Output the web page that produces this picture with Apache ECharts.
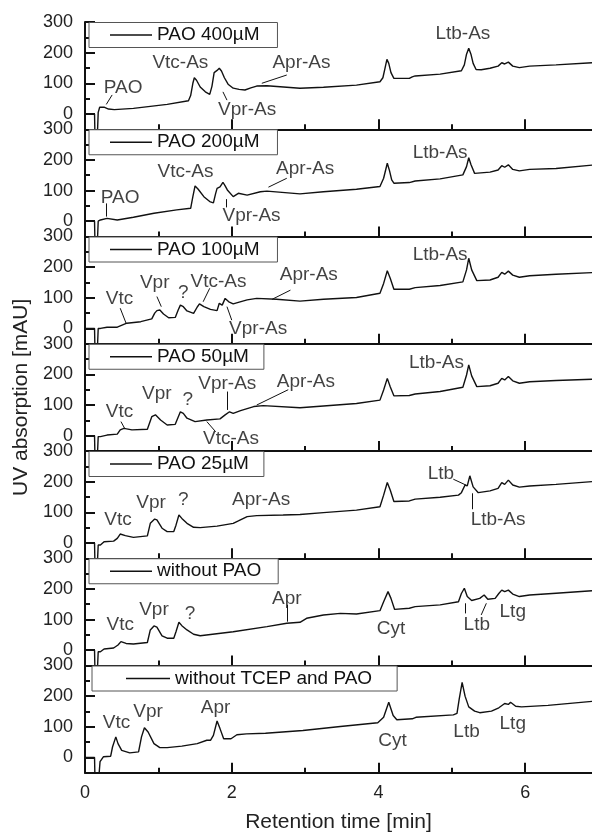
<!DOCTYPE html>
<html>
<head>
<meta charset="utf-8">
<script src="https://cdn.jsdelivr.net/npm/echarts@6/dist/echarts.min.js"></script>
<style>
html,body{margin:0;padding:0;background:#fff;}
#chart{width:592px;height:834px;}
</style>
</head>
<body>
<div id="chart"></div>
<script>
// ---- tick values ----
const xMajor = [0, 2, 4, 6];
const xMinor = [1, 3, 5];
const yMajor = [0, 100, 200, 300];
const yMinor = [50, 150, 250];

// ---- panel names ----
const panelNames = ['PAO 400µM', 'PAO 200µM', 'PAO 100µM', 'PAO 50µM', 'PAO 25µM', 'without PAO', 'without TCEP and PAO'];

// ---- traces [time, mAU] ----
const p400 = [[0,0],[0.13,0],[0.135,-60],[0.17,-60],[0.18,5],[0.2,22],[0.22,26],[0.26,22],[0.32,16],[0.4,14],[0.66,18],[1.12,31],[1.41,43],[1.44,60],[1.47,100],[1.49,118],[1.52,110],[1.57,88],[1.64,72],[1.70,64],[1.73,90],[1.76,135],[1.78,141],[1.80,142],[1.83,149],[1.86,140],[1.90,118],[1.95,97],[2.02,84],[2.10,80],[2.18,78],[2.26,85],[2.34,91],[2.48,92],[2.93,84],[3.25,87],[3.70,94],[4.02,105],[4.06,118],[4.09,150],[4.115,178],[4.14,165],[4.17,135],[4.21,116],[4.42,116],[4.46,121],[4.50,124],[4.84,130],[5.13,141],[5.17,160],[5.20,195],[5.23,214],[5.26,195],[5.29,165],[5.33,145],[5.40,144],[5.52,149],[5.63,156],[5.68,167],[5.72,163],[5.77,169],[5.83,156],[5.92,151],[6.06,156],[6.42,160],[6.91,167]];
const p200 = [[0,0],[0.13,0],[0.135,-60],[0.17,-60],[0.18,0],[0.21,4],[0.30,9],[0.44,4],[0.66,13],[0.94,26],[1.25,37],[1.44,42],[1.47,80],[1.50,115],[1.54,105],[1.62,80],[1.70,64],[1.75,60],[1.78,90],[1.80,107],[1.84,112],[1.88,127],[1.91,115],[1.94,102],[2.02,80],[2.09,91],[2.21,85],[2.39,96],[2.48,98],[2.93,89],[3.25,96],[3.70,104],[4.02,113],[4.07,140],[4.12,189],[4.15,165],[4.18,135],[4.21,124],[4.42,126],[4.50,131],[4.84,138],[5.15,151],[5.20,178],[5.23,207],[5.26,185],[5.31,156],[5.52,160],[5.63,167],[5.68,181],[5.72,176],[5.77,184],[5.83,169],[5.92,164],[6.06,169],[6.42,172],[6.91,183]];
const p100 = [[0,0],[0.13,0],[0.135,-60],[0.17,-60],[0.18,0],[0.21,0],[0.30,4],[0.44,4],[0.57,17],[0.76,22],[0.91,31],[0.95,50],[0.98,58],[1.02,60],[1.07,47],[1.14,35],[1.23,36],[1.27,60],[1.30,76],[1.34,71],[1.39,57],[1.48,49],[1.53,70],[1.56,80],[1.62,71],[1.71,62],[1.80,58],[1.83,82],[1.87,76],[1.91,98],[1.96,87],[2.02,80],[2.09,85],[2.21,93],[2.34,98],[2.61,95],[2.93,89],[3.25,95],[3.70,101],[4.02,115],[4.07,147],[4.12,188],[4.16,164],[4.21,128],[4.42,128],[4.50,133],[4.84,140],[5.15,152],[5.20,191],[5.23,229],[5.27,191],[5.34,156],[5.52,158],[5.63,167],[5.68,183],[5.72,177],[5.77,187],[5.83,174],[5.92,167],[6.06,172],[6.42,177],[6.91,182]];
const p50 = [[0,0],[0.13,0],[0.135,-60],[0.17,-60],[0.18,-3],[0.21,-3],[0.30,2],[0.44,5],[0.48,19],[0.53,24],[0.64,19],[0.85,21],[0.91,62],[0.96,68],[1.03,51],[1.12,35],[1.23,37],[1.30,78],[1.34,73],[1.39,57],[1.50,46],[1.66,51],[1.84,55],[1.91,68],[1.93,73],[1.97,78],[2.02,73],[2.12,82],[2.30,95],[2.43,98],[2.93,91],[3.25,97],[3.70,105],[4.02,116],[4.07,149],[4.12,187],[4.16,160],[4.21,130],[4.42,131],[4.50,136],[4.84,144],[5.15,158],[5.20,198],[5.23,231],[5.27,195],[5.34,160],[5.52,163],[5.63,171],[5.68,187],[5.72,182],[5.77,193],[5.83,179],[5.92,171],[6.06,176],[6.42,180],[6.91,184]];
const p25 = [[0,0],[0.13,0],[0.135,-60],[0.17,-60],[0.18,-7],[0.21,-7],[0.26,4],[0.39,6],[0.44,15],[0.48,29],[0.55,24],[0.66,18],[0.85,23],[0.89,64],[0.95,78],[0.98,75],[1.05,48],[1.12,37],[1.21,37],[1.24,58],[1.28,91],[1.32,80],[1.39,64],[1.48,51],[1.57,50],[1.80,55],[2.02,64],[2.09,72],[2.21,86],[2.34,89],[2.70,91],[2.93,93],[3.25,99],[3.70,107],[4.02,118],[4.07,156],[4.12,197],[4.16,173],[4.21,135],[4.42,137],[4.50,143],[4.84,149],[5.09,156],[5.13,164],[5.18,189],[5.21,186],[5.245,219],[5.29,183],[5.36,164],[5.52,170],[5.63,178],[5.68,197],[5.72,191],[5.77,205],[5.83,189],[5.92,182],[6.06,186],[6.42,191],[6.91,200]];
const pNoPAO = [[0,0],[0.13,0],[0.135,-60],[0.17,-60],[0.18,-5],[0.21,-5],[0.26,4],[0.39,7],[0.45,17],[0.49,28],[0.56,22],[0.66,20],[0.85,25],[0.89,66],[0.94,79],[0.98,75],[1.05,47],[1.12,39],[1.21,39],[1.24,60],[1.28,91],[1.32,80],[1.39,66],[1.48,52],[1.57,47],[2.02,60],[2.48,77],[2.75,88],[2.93,91],[3.02,104],[3.25,115],[3.48,120],[3.70,118],[4.02,129],[4.07,158],[4.13,191],[4.17,169],[4.22,133],[4.42,137],[4.50,142],[4.84,148],[5.09,158],[5.13,185],[5.17,202],[5.21,175],[5.27,162],[5.38,169],[5.44,180],[5.49,166],[5.59,169],[5.64,185],[5.68,196],[5.72,191],[5.77,196],[5.83,183],[5.92,175],[6.06,180],[6.42,186],[6.91,194]];
const pNoTCEP = [[0,0],[0.13,0],[0.135,-60],[0.19,-60],[0.205,-14],[0.25,2],[0.35,4],[0.375,34],[0.42,67],[0.45,45],[0.50,23],[0.61,15],[0.73,18],[0.77,67],[0.81,97],[0.86,83],[0.94,45],[1.02,32],[1.12,32],[1.32,37],[1.53,45],[1.66,56],[1.71,56],[1.75,72],[1.80,119],[1.84,94],[1.89,61],[1.99,61],[2.07,74],[2.20,77],[2.46,79],[2.97,88],[3.48,101],[3.99,113],[4.07,131],[4.14,180],[4.20,137],[4.25,123],[4.46,126],[4.51,131],[5.02,139],[5.07,144],[5.10,190],[5.14,245],[5.18,200],[5.23,165],[5.31,151],[5.38,146],[5.54,151],[5.64,162],[5.72,176],[5.77,173],[5.80,180],[5.87,167],[5.95,165],[6.31,170],[6.91,183]];

// ---- peak annotations [label, time, mAU] ----
const ann400 = [['PAO',0.52,84],['Vtc-As',1.30,167],['Vpr-As',2.21,15],['Apr-As',2.95,167],['Ltb-As',5.15,260]];
const ann200 = [['PAO',0.48,78],['Vtc-As',1.37,162],['Vpr-As',2.27,17],['Apr-As',3.0,172],['Ltb-As',4.84,222]];
const ann100 = [['Vtc',0.47,98],['Vpr',0.95,149],['?',1.34,118],['Vtc-As',1.82,152],['Vpr-As',2.36,0],['Apr-As',3.05,174],['Ltb-As',4.84,240]];
const ann50 = [['Vtc',0.47,79],['Vpr',0.98,138],['?',1.40,117],['Vpr-As',1.94,169],['Vtc-As',1.99,-9],['Apr-As',3.01,176],['Ltb-As',4.79,238]];
const ann25 = [['Vtc',0.45,75],['Vpr',0.90,131],['?',1.34,142],['Apr-As',2.40,142],['Ltb',4.85,227],['Ltb-As',5.63,75]];
const annNoPAO = [['Vtc',0.48,82],['Vpr',0.94,133],['?',1.43,118],['Apr',2.75,169],['Cyt',4.17,71],['Ltb',5.34,82],['Ltg',5.83,126]];
const annNoTCEP = [['Vtc',0.43,113],['Vpr',0.86,149],['Apr',1.78,163],['Cyt',4.19,55],['Ltb',5.20,84],['Ltg',5.83,111]];

// ---- leader lines [t1, y1, t2, y2] ----
const lead400 = [[0.37,62,0.29,31],[1.88,72,1.935,45],[2.75,127,2.41,100]];
const lead200 = [[0.29,58,0.29,15],[1.925,72,1.925,45],[2.75,140,2.50,111]];
const lead100 = [[0.48,66,0.56,17],[0.98,104,1.04,71],[1.70,131,1.61,87],[1.935,71,2.0,27],[2.80,125,2.55,95]];
const lead50 = [[0.49,46,0.54,24],[1.935,144,1.935,84],[1.66,46,1.78,13],[2.77,150,2.34,100]];
const lead25 = [[5.02,208,5.19,189],[5.28,162,5.28,110]];
const leadNoPAO = [[2.75,148,2.75,93],[5.18,153,5.18,120],[5.40,115,5.47,153]];
const leadNoTCEP = [];

const traces = [p400, p200, p100, p50, p25, pNoPAO, pNoTCEP];
const anns = [ann400, ann200, ann100, ann50, ann25, annNoPAO, annNoTCEP];
const leads = [lead400, lead200, lead100, lead50, lead25, leadNoPAO, leadNoTCEP];

// ---- layout ----
const FONT = 'Liberation Sans, Arial, Helvetica, sans-serif';
const TOP = 22, PH = 107.25, XMAX = 6.91;
const legLeft = [89, 89, 89, 89, 89, 89, 92];
const legPadL = [21, 21, 21, 21, 21, 21, 34];
const legPadR = [18, 18, 18, 15, 15, 17, 25];
const legIconW = [42, 42, 42, 42, 42, 42, 44];
const INK = '#111';

const grid = [], xAxis = [], yAxis = [], series = [], legend = [];
for (let k = 0; k < 7; k++) {
  const top = TOP + k * PH;
  grid.push({left: 85, right: 0, top: top, height: PH});
  const last = k === 6;
  xAxis.push({
    type: 'value', gridIndex: k, min: 0, max: XMAX, position: 'bottom',
    axisLine: {show: true, onZero: false, lineStyle: {color: INK, width: 2}},
    axisTick: {show: true, inside: true, length: 10, customValues: xMajor, lineStyle: {color: INK, width: 2}},
    axisLabel: {show: last, customValues: xMajor, fontSize: 18, color: '#222', margin: 11, fontFamily: FONT},
    splitLine: {show: false},
    name: last ? 'Retention time [min]' : '',
    nameLocation: 'middle', nameGap: 39,
    nameTextStyle: {fontSize: 21, color: '#222', fontFamily: FONT}
  });
  xAxis.push({
    type: 'value', gridIndex: k, min: 0, max: XMAX, position: 'bottom',
    axisLine: {show: false, onZero: false},
    axisTick: {show: true, inside: true, length: 5, customValues: xMinor, lineStyle: {color: INK, width: 2}},
    axisLabel: {show: false}, splitLine: {show: false}
  });
  yAxis.push({
    type: 'value', gridIndex: k, min: -50, max: 300, position: 'left',
    axisLine: {show: true, onZero: false, lineStyle: {color: INK, width: 2}},
    axisTick: {show: true, inside: true, length: 10, customValues: yMajor, lineStyle: {color: INK, width: 2}},
    axisLabel: {show: true, customValues: yMajor, fontSize: 18, color: '#222', margin: 12, fontFamily: FONT},
    splitLine: {show: false},
    name: k === 3 ? 'UV absorption [mAU]' : '',
    nameLocation: 'middle', nameGap: 52,
    nameTextStyle: {fontSize: 21, color: '#222', fontFamily: FONT}
  });
  yAxis.push({
    type: 'value', gridIndex: k, min: -50, max: 300, position: 'left', offset: 0,
    axisLine: {show: false, onZero: false},
    axisTick: {show: true, inside: true, length: 5, customValues: yMinor, lineStyle: {color: INK, width: 2}},
    axisLabel: {show: false}, splitLine: {show: false}
  });
  series.push({
    type: 'line', name: panelNames[k], xAxisIndex: 2 * k, yAxisIndex: 2 * k,
    data: traces[k], symbol: 'none', showSymbol: false, clip: true,
    lineStyle: {color: INK, width: 1.4}, itemStyle: {color: INK}, z: 3
  });
  series.push({
    type: 'scatter', name: 'ann' + k, xAxisIndex: 2 * k, yAxisIndex: 2 * k,
    data: anns[k].map(a => ({name: a[0], value: [a[1], a[2]]})),
    symbolSize: 1, itemStyle: {color: 'rgba(0,0,0,0)'}, silent: true, z: 4,
    label: {show: true, position: 'inside', formatter: '{b}', fontSize: 19, color: INK, fontFamily: FONT},
    markLine: {
      silent: true, symbol: ['none', 'none'], animation: false,
      label: {show: false},
      lineStyle: {color: INK, width: 1, type: 'solid'},
      emphasis: {disabled: true},
      data: leads[k].map(l => [{coord: [l[0], l[1]]}, {coord: [l[2], l[3]]}])
    }
  });
  legend.push({
    data: [panelNames[k]], left: legLeft[k], top: top + 0.5, orient: 'horizontal',
    icon: 'rect', itemWidth: legIconW[k], itemHeight: 1.3, itemGap: 0, selectedMode: false,
    itemStyle: {color: INK, borderWidth: 0},
    padding: [3, legPadR[k], 3, legPadL[k]],
    borderColor: '#555', borderWidth: 1, backgroundColor: '#fff',
    textStyle: {fontSize: 19, color: INK, fontFamily: FONT}
  });
}

const chart = echarts.init(document.getElementById('chart'), null, {renderer: 'canvas'});
chart.setOption({
  animation: false,
  backgroundColor: '#fff',
  textStyle: {fontFamily: FONT},
  grid: grid, xAxis: xAxis, yAxis: yAxis, legend: legend, series: series
});
</script>
</body>
</html>
